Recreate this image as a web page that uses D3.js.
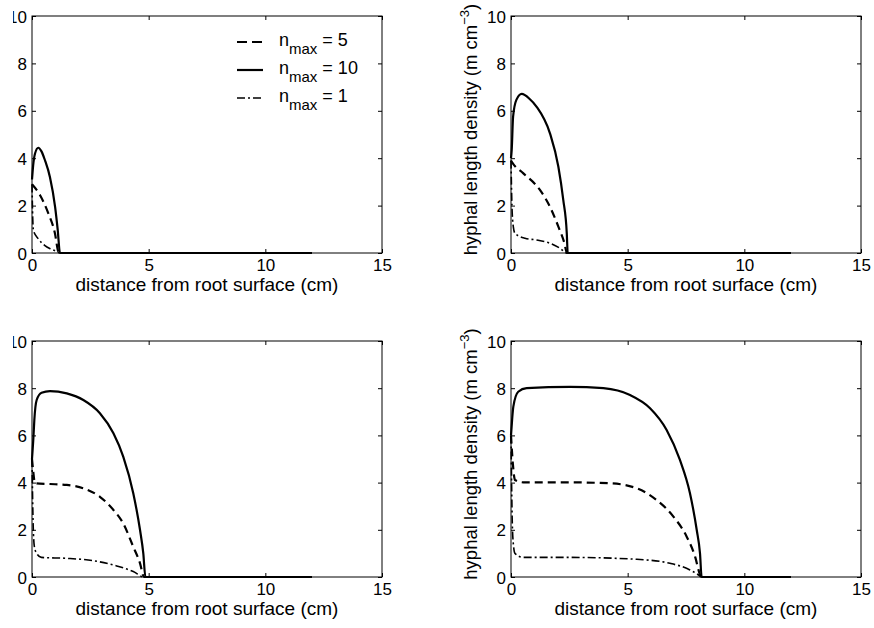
<!DOCTYPE html>
<html><head><meta charset="utf-8">
<script src="https://cdn.jsdelivr.net/npm/d3@7"></script>
<style>
body{margin:0;background:#fff}
text{font-family:"Liberation Sans",Arial,Helvetica,sans-serif;fill:#000}
</style>
</head><body>
<svg id="chart" width="874" height="628"></svg>
<script>
// ---- data ----
const xTicks = [0, 5, 10, 15];
const yTicks = [0, 2, 4, 6, 8, 10];
const xLabel = "distance from root surface (cm)";
const yLabelMain = "hyphal length density (m cm";
const yLabelSup = "\u22123";
const legendLabels = ["5", "10", "1"];   // n_max values: dashed, solid, dash-dot

// top-left panel
const tlSolid   = [[0,3.1],[0.05,3.7],[0.13,4.2],[0.27,4.44],[0.4,4.3],[0.56,3.9],[0.77,3.2],[0.99,1.95],[1.1,1.0],[1.2,0],[12,0]];
const tlDashed  = [[0,2.9],[0.34,2.45],[0.7,1.67],[0.98,0.84],[1.13,0.05],[1.16,0],[12,0]];
const tlDashDot = [[0,2.9],[0.03,1.5],[0.06,0.95],[0.27,0.6],[0.54,0.32],[0.85,0.15],[1.13,0.03],[1.18,0],[12,0]];
// top-right panel
const trSolid   = [[0,4.0],[0.03,4.35],[0.09,5.75],[0.23,6.46],[0.46,6.71],[0.8,6.5],[1.1,6.17],[1.67,5.05],[2.03,3.64],[2.24,2.24],[2.39,0.84],[2.43,0],[12,0]];
const trDashed  = [[0,3.9],[0.1,3.75],[0.53,3.36],[1.24,2.66],[1.67,1.95],[2.03,1.11],[2.29,0.41],[2.4,0],[12,0]];
const trDashDot = [[0,3.9],[0.04,2.0],[0.1,1.1],[0.17,0.83],[0.6,0.62],[1.1,0.55],[1.67,0.41],[2.1,0.2],[2.4,0],[12,0]];
// bottom-left panel
const blSolid   = [[0,5.0],[0.06,5.9],[0.1,6.65],[0.2,7.5],[0.41,7.81],[0.77,7.88],[1.49,7.78],[2.2,7.5],[2.91,6.94],[3.49,6.09],[3.91,5.1],[4.34,3.55],[4.63,1.99],[4.77,1.0],[4.86,0],[12,0]];
const blDashed  = [[0,5.0],[0.05,4.5],[0.13,3.97],[0.77,3.94],[1.49,3.9],[2.2,3.76],[2.91,3.4],[3.49,2.84],[3.91,2.27],[4.34,1.28],[4.63,0.58],[4.8,0],[12,0]];
const blDashDot = [[0,5.0],[0.05,2.2],[0.1,1.3],[0.2,1.0],[0.4,0.83],[1.49,0.79],[2.63,0.69],[3.63,0.47],[4.34,0.23],[4.8,0],[12,0]];
// bottom-right panel
const brSolid   = [[0,6.0],[0.05,6.7],[0.1,7.22],[0.31,7.85],[0.67,8.0],[2.53,8.06],[3.96,8.0],[5.1,7.71],[5.96,7.15],[6.67,6.23],[7.24,4.96],[7.67,3.55],[7.96,1.99],[8.1,1.0],[8.17,0],[12,0]];
const brDashed  = [[0,6.0],[0.08,4.8],[0.17,4.11],[0.53,4.01],[2.53,4.01],[4.24,3.97],[5.39,3.76],[6.24,3.26],[6.96,2.56],[7.53,1.71],[7.89,0.86],[8.1,0.1],[8.15,0],[12,0]];
const brDashDot = [[0,6.0],[0.05,2.5],[0.1,1.4],[0.17,1.0],[0.53,0.83],[2.53,0.83],[5.39,0.75],[6.81,0.58],[7.67,0.3],[8.1,0.04],[8.15,0],[12,0]];

// ---- styles / layout ----
const styles = {
  solid:   {width: 2.2, dash: null},
  dashed:  {width: 2.2, dash: "8,5"},
  dashdot: {width: 1.6, dash: "8,3,2,3"}
};
const panels = [
  {x: 32,  y: 16,  w: 350, h: 237, ylab: false, legend: true,  clipLeft: true,  series: [["dashed", tlDashed], ["solid", tlSolid], ["dashdot", tlDashDot]]},
  {x: 511, y: 16,  w: 350, h: 237, ylab: true,  legend: false, clipLeft: false, series: [["dashed", trDashed], ["solid", trSolid], ["dashdot", trDashDot]]},
  {x: 32,  y: 341, w: 350, h: 236, ylab: false, legend: false, clipLeft: true,  series: [["dashed", blDashed], ["solid", blSolid], ["dashdot", blDashDot]]},
  {x: 511, y: 341, w: 350, h: 236, ylab: true,  legend: false, clipLeft: false, series: [["dashed", brDashed], ["solid", brSolid], ["dashdot", brDashDot]]}
];

const svg = d3.select("#chart");
svg.append("defs").append("clipPath").attr("id", "leftclip")
  .append("rect").attr("x", 13).attr("y", 0).attr("width", 874).attr("height", 628);

panels.forEach((p, i) => {
  const x = d3.scaleLinear().domain([0, 15]).range([0, p.w]);
  const y = d3.scaleLinear().domain([0, 10]).range([p.h, 0]);
  const g = svg.append("g").attr("transform", `translate(${p.x},${p.y})`);

  // curves
  const line = d3.line().x(d => x(d[0])).y(d => y(d[1])).curve(d3.curveMonotoneX);
  p.series.forEach(([kind, data]) => {
    const st = styles[kind];
    g.append("path").datum(data).attr("d", line)
      .attr("fill", "none").attr("stroke", "#000")
      .attr("stroke-width", st.width)
      .attr("stroke-linejoin", "round")
      .attr("stroke-dasharray", st.dash);
  });

  // axes with inward ticks
  const fs = "17px";
  const xb = g.append("g").attr("transform", `translate(0,${p.h})`)
    .call(d3.axisBottom(x).tickValues(xTicks).tickFormat(d3.format("d")).tickSizeInner(-4).tickSizeOuter(0).tickPadding(5));
  const xt = g.append("g")
    .call(d3.axisTop(x).tickValues(xTicks).tickFormat("").tickSizeInner(-4).tickSizeOuter(0));
  const yl = g.append("g")
    .call(d3.axisLeft(y).tickValues(yTicks).tickFormat(d3.format("d")).tickSizeInner(-4).tickSizeOuter(0).tickPadding(5));
  const yr = g.append("g").attr("transform", `translate(${p.w},0)`)
    .call(d3.axisRight(y).tickValues(yTicks).tickFormat("").tickSizeInner(-4).tickSizeOuter(0));
  [xb, xt, yl, yr].forEach(a => {
    a.select(".domain").remove();
    a.selectAll("line").attr("stroke", "#000").attr("stroke-width", 1);
    a.selectAll("text").attr("font-size", fs).attr("fill", "#000")
      .style("font-family", '"Liberation Sans",Arial,sans-serif');
  });
  xb.selectAll("text").attr("dy", null).attr("y", 18).attr("dominant-baseline", "auto");
  yl.selectAll("text").attr("x", -5).attr("dy", "0.36em");
  if (p.clipLeft) {
    // original figure is cropped at its left edge
    const wrap = svg.append("g").attr("clip-path", "url(#leftclip)");
    wrap.node().appendChild(yl.node());
    yl.attr("transform", `translate(${p.x},${p.y})`);
  }

  // box
  g.append("rect").attr("x", 0).attr("y", 0).attr("width", p.w).attr("height", p.h)
    .attr("fill", "none").attr("stroke", "#000").attr("stroke-width", 1);

  // x label
  g.append("text").attr("x", p.w / 2).attr("y", p.h + 38)
    .attr("text-anchor", "middle").attr("font-size", "19px").text(xLabel);

  // y label
  if (p.ylab) {
    const t = svg.append("text")
      .attr("transform", `translate(${p.x - 34},${p.y + p.h / 2 - 5}) rotate(-90)`)
      .attr("text-anchor", "middle").attr("font-size", "18.5px");
    t.append("tspan").text(yLabelMain);
    t.append("tspan").attr("dy", -8).attr("font-size", "13px").text(yLabelSup);
    t.append("tspan").attr("dy", 8).text(")");
  }

  // legend
  if (p.legend) {
    const order = ["dashed", "solid", "dashdot"];
    const lg = g.append("g").attr("transform", `translate(205,26)`);
    order.forEach((k, j) => {
      const st = styles[k];
      const row = lg.append("g").attr("transform", `translate(0,${j * 28})`);
      row.append("line").attr("x1", 0).attr("x2", 26).attr("y1", 0).attr("y2", 0)
        .attr("stroke", "#000").attr("stroke-width", st.width)
        .attr("stroke-dasharray", k === "dashed" ? "10,5" : st.dash);
      const tx = row.append("text").attr("x", 42).attr("y", 4).attr("font-size", "18px");
      tx.append("tspan").text("n");
      tx.append("tspan").attr("dy", 8).attr("font-size", "15px").text("max");
      tx.append("tspan").attr("dy", -8).text(" = " + legendLabels[j]);
    });
  }
});
</script>
</body></html>
